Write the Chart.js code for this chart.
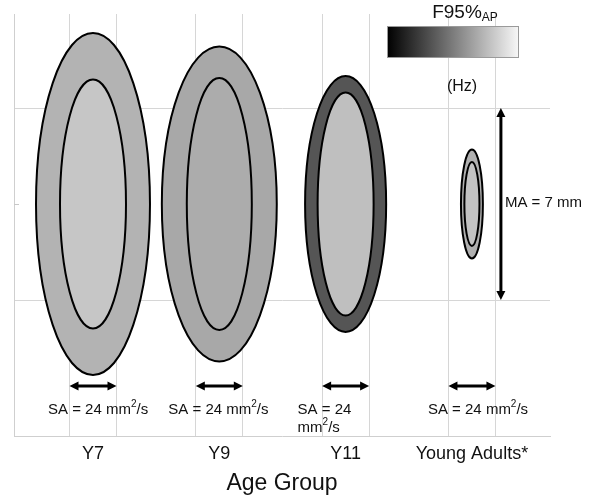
<!DOCTYPE html>
<html><head><meta charset="utf-8">
<script src="https://cdn.jsdelivr.net/npm/chart.js@4"></script>
<style>html,body{margin:0;padding:0;background:#fff}</style>
</head><body>
<canvas id="c" width="600" height="501"></canvas>
<script>
// ---- data ----
const categories = ['Y7', 'Y9', 'Y11', 'Young Adults*'];
const outerWidth = [58.2, 58.7, 41.4, 11.2];   // SA axis (mm²/s)
const outerHeight = [12.47, 11.48, 9.33, 3.97]; // MA axis (mm)
const innerWidth = [33.7, 33.2, 28.6, 7.7];
const innerHeight = [9.08, 9.19, 8.13, 3.06];
const f95Outer = [0.70, 0.66, 0.333, 0.69];     // position on colour bar (0 = black, 1 = white)
const f95Inner = [0.777, 0.675, 0.75, 0.765];
const saValue = [24, 24, 24, 24];               // mm²/s
const maValue = 7;                              // mm
const yTicks = [-3.5, 0, 3.5];

// ---- layout constants ----
const FONT = '"Liberation Sans", Arial, sans-serif';
const STEP = 64.5;               // spacing between groups on the x axis
const centers = categories.map((_, i) => STEP * (i + 1));
const GRID = '#d6d6d6';
const saLabelShift = [-45, -51, -48, -44];

function gray(t) { const v = Math.round(t * 255); return `rgb(${v},${v},${v})`; }

function arrowHead(ctx, x, y, dx, dy) {
  const L = 9, W = 4.5;
  const px = -dy, py = dx;
  ctx.beginPath();
  ctx.moveTo(x, y);
  ctx.lineTo(x - dx * L + px * W, y - dy * L + py * W);
  ctx.lineTo(x - dx * L - px * W, y - dy * L - py * W);
  ctx.closePath();
  ctx.fill();
}
function doubleArrow(ctx, x1, y1, x2, y2) {
  const len = Math.hypot(x2 - x1, y2 - y1);
  const dx = (x2 - x1) / len, dy = (y2 - y1) / len;
  ctx.save();
  ctx.strokeStyle = '#000'; ctx.fillStyle = '#000'; ctx.lineWidth = 3;
  ctx.beginPath();
  ctx.moveTo(x1 + dx * 6, y1 + dy * 6);
  ctx.lineTo(x2 - dx * 6, y2 - dy * 6);
  ctx.stroke();
  arrowHead(ctx, x2, y2, dx, dy);
  arrowHead(ctx, x1, y1, -dx, -dy);
  ctx.restore();
}
// rich text: parts = [{t, size, dy}]
function richText(ctx, parts, x, y, align) {
  let total = 0;
  parts.forEach(p => { ctx.font = p.size + 'px ' + FONT; p.w = ctx.measureText(p.t).width; total += p.w; });
  let cx = align === 'center' ? x - total / 2 : x;
  ctx.textAlign = 'left'; ctx.textBaseline = 'middle';
  parts.forEach(p => { ctx.font = p.size + 'px ' + FONT; ctx.fillText(p.t, cx, y + (p.dy || 0)); cx += p.w; });
}

const ellipsePlugin = {
  id: 'ellipses',
  afterDatasetsDraw(chart) {
    const { ctx, scales: { x, y } } = chart;
    ctx.save();
    // small inward tick at y = 0
    ctx.strokeStyle = '#c8c8c8'; ctx.lineWidth = 1;
    ctx.beginPath();
    ctx.moveTo(chart.chartArea.left, Math.round(y.getPixelForValue(0)) + 0.5);
    ctx.lineTo(chart.chartArea.left + 5, Math.round(y.getPixelForValue(0)) + 0.5);
    ctx.stroke();

    categories.forEach((c, i) => {
      const cx = x.getPixelForValue(centers[i]);
      const cy = y.getPixelForValue(0);
      const layers = [[outerWidth[i], outerHeight[i], f95Outer[i]], [innerWidth[i], innerHeight[i], f95Inner[i]]];
      layers.forEach(([w, h, t]) => {
        const rx = x.getPixelForValue(centers[i] + w / 2) - cx;
        const ry = cy - y.getPixelForValue(h / 2);
        ctx.beginPath();
        ctx.ellipse(cx, cy, rx, ry, 0, 0, Math.PI * 2);
        ctx.fillStyle = gray(t); ctx.fill();
        ctx.lineWidth = 2; ctx.strokeStyle = '#000'; ctx.stroke();
      });
      // SA arrow
      const ay = y.getPixelForValue(-6.635);
      doubleArrow(ctx, x.getPixelForValue(centers[i] - saValue[i] / 2), ay,
                       x.getPixelForValue(centers[i] + saValue[i] / 2), ay);
      ctx.fillStyle = '#111';
      const lx = cx + saLabelShift[i];
      if (i === 2) {
        richText(ctx, [{ t: 'SA = ' + saValue[i], size: 15 }], lx, 410, 'left');
        richText(ctx, [{ t: 'mm', size: 15 }, { t: '2', size: 10, dy: -6 }, { t: '/s', size: 15 }], lx, 428, 'left');
      } else {
        richText(ctx, [{ t: 'SA = ' + saValue[i] + ' mm', size: 15 }, { t: '2', size: 10, dy: -6 }, { t: '/s', size: 15 }], lx, 410, 'left');
      }
    });

    // MA arrow
    const mx = x.getPixelForValue(centers[3] + 14.8);
    doubleArrow(ctx, mx, y.getPixelForValue(maValue / 2), mx, y.getPixelForValue(-maValue / 2));
    ctx.fillStyle = '#111';
    richText(ctx, [{ t: 'MA = ' + maValue + ' mm', size: 15 }], mx + 4, y.getPixelForValue(0) - 1, 'left');

    // colour bar
    const bx = 387, by = 26, bw = 132, bh = 32;
    const g = ctx.createLinearGradient(bx, 0, bx + bw, 0);
    g.addColorStop(0, '#000'); g.addColorStop(1, '#f8f8f8');
    ctx.fillStyle = g; ctx.fillRect(bx, by, bw, bh);
    ctx.strokeStyle = '#9a9a9a'; ctx.lineWidth = 1; ctx.strokeRect(bx + 0.5, by + 0.5, bw - 1, bh - 1);
    ctx.fillStyle = '#111';
    richText(ctx, [{ t: 'F95%', size: 19 }, { t: 'AP', size: 12, dy: 5 }], 465, 13, 'center');
    richText(ctx, [{ t: '(Hz)', size: 16 }], 462, 87, 'center');
    ctx.restore();
  }
};

new Chart(document.getElementById('c'), {
  type: 'scatter',
  data: { datasets: [{ data: centers.map(c => ({ x: c, y: 0 })), pointRadius: 0 }] },
  options: {
    responsive: false, animation: false, devicePixelRatio: 1,
    layout: { padding: { left: 14, top: 14, right: 50, bottom: 0 } },
    plugins: { legend: { display: false }, tooltip: { enabled: false } },
    scales: {
      x: {
        type: 'linear', min: 24.16, max: 297.87,
        afterBuildTicks: s => {
          const t = [];
          centers.forEach((c, i) => { t.push({ value: c - saValue[i] / 2 }, { value: c }, { value: c + saValue[i] / 2 }); });
          s.ticks = t;
        },
        ticks: {
          autoSkip: false, maxRotation: 0, minRotation: 0, padding: 7, color: '#111',
          font: { size: 18, family: FONT },
          callback: (v, i) => (i % 3 === 1 ? categories[(i - 1) / 3] : '')
        },
        grid: { drawTicks: false, color: c => (c.index % 3 === 1 ? 'rgba(0,0,0,0)' : GRID) },
        border: { color: '#cfcfcf' },
        title: { display: true, text: 'Age Group', color: '#111', font: { size: 23, family: FONT }, padding: { top: 0, bottom: 4 } },
        afterFit: s => { s.height = 65; }
      },
      y: {
        min: -8.458, max: 6.927,
        afterBuildTicks: s => { s.ticks = yTicks.map(v => ({ value: v })); },
        ticks: { display: false },
        grid: { drawTicks: false, color: c => (c.tick && c.tick.value === 0 ? 'rgba(0,0,0,0)' : GRID) },
        border: { color: '#cfcfcf' },
        afterFit: s => { s.width = 0; }
      }
    }
  },
  plugins: [ellipsePlugin]
});
</script>
</body></html>
